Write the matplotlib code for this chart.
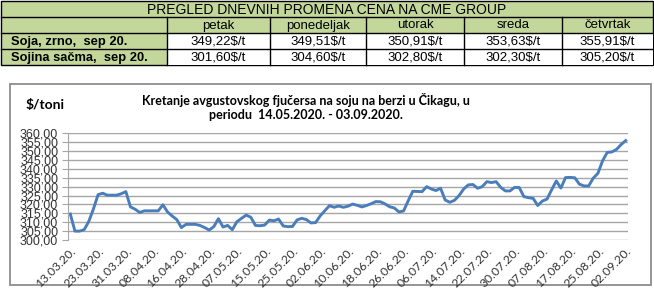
import matplotlib
matplotlib.use("Agg")
import matplotlib.pyplot as plt
from matplotlib.patches import Rectangle
from matplotlib.ticker import FuncFormatter

W, H = 654, 296

table_title = "PREGLED DNEVNIH PROMENA CENA NA CME GROUP"
days = ["petak", "ponedeljak", "utorak", "sreda", "četvrtak"]
products = ["Soja, zrno,  sep 20.", "Sojina sačma,  sep 20."]
soja_prices = ["349,22$/t", "349,51$/t", "350,91$/t", "353,63$/t", "355,91$/t"]
sacma_prices = ["301,60$/t", "304,60$/t", "302,80$/t", "302,30$/t", "305,20$/t"]

chart_title = ("Kretanje avgustovskog fjučersa na soju na berzi u Čikagu, u\n"
               "periodu  14.05.2020. - 03.09.2020.")
unit_label = "$/toni"
date_labels = ["13.03.20.", "23.03.20.", "31.03.20.", "08.04.20.", "16.04.20.",
               "28.04.20.", "07.05.20.", "15.05.20.", "25.05.20.", "02.06.20.",
               "10.06.20.", "18.06.20.", "26.06.20.", "06.07.20.", "14.07.20.",
               "22.07.20.", "30.07.20.", "07.08.20.", "17.08.20.", "25.08.20.",
               "02.09.20."]
prices = [314.6, 305.0, 305.0, 305.8, 310.5, 317.5, 325.5, 326.3, 325.2, 325.2,
          325.2, 326.0, 327.2, 318.6, 317.3, 315.5, 316.4, 316.4, 316.4, 316.4,
          319.8, 315.8, 313.5, 311.5, 307.0, 308.8, 308.8, 308.8, 308.2, 307.0,
          305.6, 307.5, 312.0, 307.3, 308.2, 305.8, 310.3, 312.2, 314.0, 312.8,
          308.2, 308.0, 308.4, 311.2, 310.8, 311.8, 307.9, 307.5, 307.6, 311.3,
          312.2, 311.5, 309.6, 309.8, 313.6, 316.5, 319.3, 318.4, 319.1, 318.4,
          319.0, 320.2, 319.5, 318.6, 319.4, 320.4, 321.6, 321.5, 320.3, 318.7,
          318.0, 315.8, 316.3, 322.0, 327.4, 327.3, 327.2, 330.0, 328.7, 327.8,
          329.1, 322.5, 321.2, 322.3, 325.0, 328.7, 331.0, 331.2, 329.1, 330.0,
          332.8, 332.3, 332.8, 329.6, 327.6, 327.6, 329.6, 329.5, 324.4, 323.8,
          323.4, 319.4, 321.9, 323.0, 328.2, 333.2, 329.2, 335.1, 335.2, 335.0,
          331.4, 330.4, 330.4, 334.8, 337.5, 344.5, 349.22, 349.51, 350.91, 353.63,
          355.91]

sans = ["Liberation Sans", "DejaVu Sans"]
calib = ["Lato", "DejaVu Sans"]
green = "#c4d79b"

fig = plt.figure(figsize=(W / 100, H / 100), dpi=100)

# background layer in pixel coordinates: table + chart frame
bg = fig.add_axes([0, 0, 1, 1])
bg.set_xlim(0, W)
bg.set_ylim(H, 0)
bg.axis("off")

col_x = [1, 167, 270, 366, 464, 562, 653]
row_y = [1, 17, 33, 49, 65]

bg.add_patch(Rectangle((col_x[0], row_y[0]), col_x[-1] - col_x[0], row_y[-1] - row_y[0],
                       facecolor=green, edgecolor="black", lw=1))
for r in (2, 3):
    for c in range(1, 6):
        bg.add_patch(Rectangle((col_x[c], row_y[r]), col_x[c + 1] - col_x[c], row_y[r + 1] - row_y[r],
                               facecolor="white", edgecolor="none"))
for y in row_y[1:-1]:
    bg.plot([col_x[0], col_x[-1]], [y, y], color="black", lw=1)
for x in col_x[1:-1]:
    bg.plot([x, x], [row_y[1], row_y[-1]], color="black", lw=1)

bg.text((col_x[0] + col_x[-1]) / 2 + 0, (row_y[0] + row_y[1]) / 2 + 0.5, table_title,
        ha="center", va="center", fontsize=10, family=sans, color="black")
for c, d in enumerate(days):
    xc = (col_x[c + 1] + col_x[c + 2]) / 2
    bg.text(xc, (row_y[1] + row_y[2]) / 2 + 0.5, d, ha="center", va="center", fontsize=9.5, family=sans)
    bg.text(xc, (row_y[2] + row_y[3]) / 2 + 0.5, soja_prices[c], ha="center", va="center", fontsize=9.5, family=sans)
    bg.text(xc, (row_y[3] + row_y[4]) / 2 + 0.5, sacma_prices[c], ha="center", va="center", fontsize=9.5, family=sans)
for r, p in enumerate(products):
    bg.text(11, (row_y[r + 2] + row_y[r + 3]) / 2 + 0.5, p, ha="left", va="center",
            fontsize=9.3, fontweight="bold", family=sans)

# chart frame
bg.add_patch(Rectangle((10, 84), 641, 201, facecolor="white", edgecolor="#8c8c8c", lw=1.3))
bg.text(306, 100, chart_title.split("\n")[0], ha="center", va="center",
        fontsize=9, fontweight="bold", family=calib)
bg.text(306, 115, chart_title.split("\n")[1], ha="center", va="center",
        fontsize=9, fontweight="bold", family=calib)
bg.text(45, 105, unit_label, ha="center", va="center", fontsize=10, fontweight="bold",
        family=calib)

# chart
ax = fig.add_axes([68 / W, 1 - 240 / H, (628 - 68) / W, (240 - 133.3) / H])
ax.patch.set_alpha(0)
x = list(range(len(prices)))
ax.plot(x, prices, color="#4a7ebb", lw=2.1, solid_joinstyle="round")
ax.set_xlim(-0.5, len(prices) - 0.5)
ax.set_ylim(300, 360)
ax.set_yticks(range(300, 361, 5))
ax.yaxis.set_major_formatter(FuncFormatter(lambda v, p: f"{v:.2f}".replace(".", ",")))
ax.grid(axis="y", color="#a6a6a6", lw=1)
ax.set_axisbelow(True)
for s in ("top", "right", "bottom"):
    ax.spines[s].set_visible(False)
ax.spines["left"].set_color("#a6a6a6")
ax.tick_params(axis="y", length=4, color="#a6a6a6", pad=3, labelsize=9, labelcolor="#333333")
for lab in ax.get_yticklabels():
    lab.set_family(sans)
ax.set_xticks(x[::6])
ax.set_xticklabels(date_labels, rotation=45, ha="right", rotation_mode="anchor",
                   fontsize=8.8, color="#333333", family=calib)
ax.tick_params(axis="x", length=0, pad=4)

fig.savefig("out.png", dpi=100)
